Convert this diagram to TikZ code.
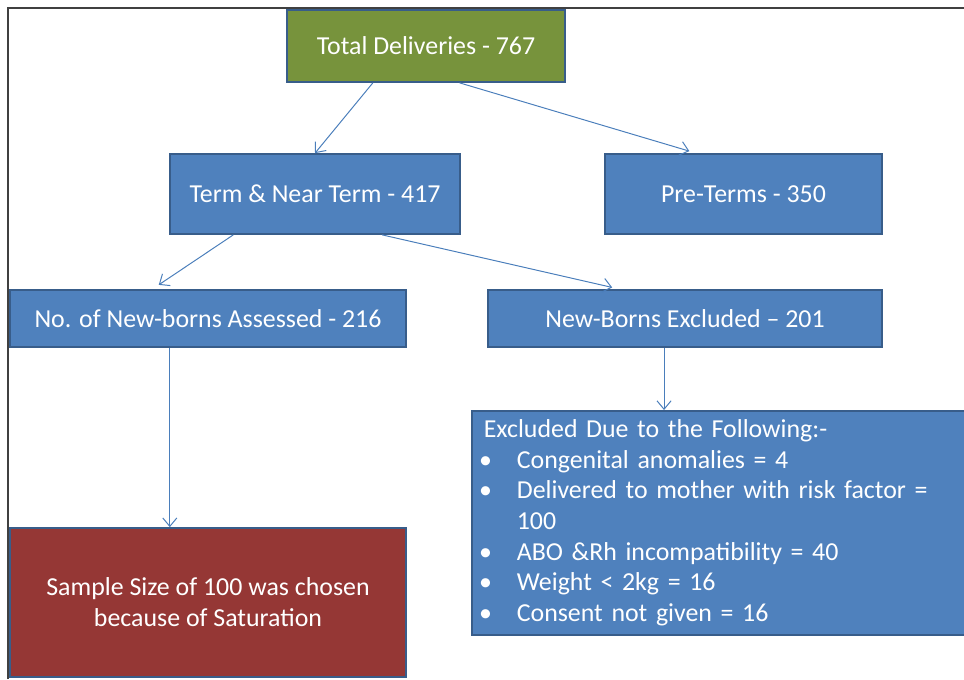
\documentclass[tikz,border=0pt]{standalone}
\usepackage{fontspec}
\setmainfont{Carlito}
\usetikzlibrary{calc,positioning,arrows.meta}
\definecolor{boxB}{HTML}{4F81BD}
\definecolor{lineB}{HTML}{385D8A}
\definecolor{arrowB}{HTML}{4A7EBB}
\definecolor{rootG}{HTML}{77933C}
\definecolor{endR}{HTML}{953735}
\definecolor{frameC}{HTML}{404040}
\tikzset{
  flowbox/.style={draw=lineB,line width=1.2pt,fill=boxB,text=white,
    font=\fontsize{18.4}{22}\selectfont,inner sep=4pt},
  flowarr/.style={arrowB,line width=0.7pt,-{Straight Barb[length=6pt,width=10pt]}},
}
\newcommand{\rbul}{\hspace*{-0.12cm}\makebox[0.945cm][l]{\textbullet}}

\begin{document}
\begin{tikzpicture}[x=0.025cm,y=-0.025cm]
  \useasboundingbox (0,0) rectangle (964,679);
  \clip (0,0) rectangle (964,679);

  % outer frame
  \draw[frameC,line width=1.3pt] (8,679) -- (8,8) -- (964,8);

  % top level
  \node[flowbox,fill=rootG,minimum width=6.95cm,minimum height=1.8cm] (total) at (426,46) {Total Deliveries - 767};

  % second level
  \node[flowbox,minimum width=7.25cm,minimum height=2cm] (term) at (315,194) {Term \& Near Term - 417};
  \node[flowbox,minimum width=6.925cm,minimum height=2cm] (preterm) at (743.5,194) {Pre-Terms - 350};

  % third level
  \node[flowbox,minimum width=9.9cm,minimum height=1.425cm] (assessed) at (208,318.5) {No. of New-borns Assessed - 216};
  \node[flowbox,minimum width=9.85cm,minimum height=1.425cm] (excluded) at (685,318.5) {New-Borns Excluded -- 201};

  % outcome boxes
  \node[flowbox,fill=endR,minimum width=9.9cm,minimum height=3.725cm,align=center] (sample) at (208,602.5)
    {Sample Size of 100 was chosen\\because of Saturation};
  \node[flowbox,anchor=north west,minimum height=5.6cm,inner xsep=0.3cm,text width=11.9cm,
    align=left,font=\fontsize{18.4}{21.8}\selectfont] (reasons) at (471,410)
    {Excluded Due to the Following:-\\
     \rbul Congenital anomalies = 4\\
     \rbul Delivered to mother with risk factor =\\
     \hspace*{0.825cm}100\\
     \rbul ABO \&Rh incompatibility = 40\\
     \rbul Weight < 2kg = 16\\
     \rbul Consent not given = 16};

  % connectors
  \draw[flowarr] ($(total.south west)!0.31!(total.south east)$) -- (term.north);
  \draw[flowarr,shorten >=5pt] ($(total.south west)!0.62!(total.south east)$) -- ($(preterm.north west)!0.33!(preterm.north east)$);
  \draw[flowarr,shorten >=5.5pt] ($(term.south west)!0.22!(term.south east)$) -- ($(assessed.north west)!0.36!(assessed.north east)$);
  \draw[flowarr,shorten >=5.5pt] ($(term.south west)!0.73!(term.south east)$) -- ($(excluded.north west)!0.335!(excluded.north east)$);
  \coordinate (a1) at ($(assessed.south west)!0.404!(assessed.south east)$);
  \draw[flowarr] (a1) -- (a1 |- sample.north);
  \coordinate (e1) at ($(excluded.south west)!0.447!(excluded.south east)$);
  \draw[flowarr] (e1) -- (e1 |- reasons.north);
\end{tikzpicture}
\end{document}
